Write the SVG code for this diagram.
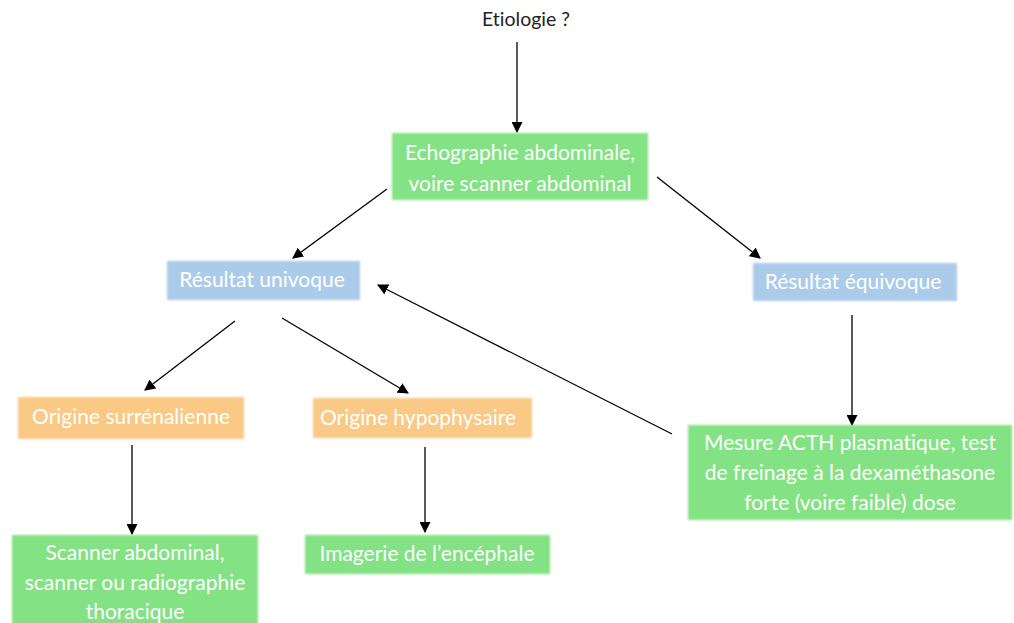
<svg xmlns="http://www.w3.org/2000/svg" width="1014" height="623" viewBox="0 0 1014 623">
<defs>
<style>
.t{font-family:Lato,"Open Sans","Liberation Sans",sans-serif;font-size:21px;fill:#ffffff;text-anchor:middle;font-variant-ligatures:none}
.e{font-family:Lato,"Open Sans","Liberation Sans",sans-serif;font-size:19.5px;fill:#222222;text-anchor:middle;font-variant-ligatures:none}
.g{fill:#83e283}
.b{fill:#abcbea}
.o{fill:#f9c985}
.c{stroke:#000;stroke-width:1.3;fill:none;marker-end:url(#ah)}
</style>
<filter id="soft" x="-5%" y="-5%" width="110%" height="110%"><feGaussianBlur stdDeviation="0.9"/></filter>
<marker id="ah" viewBox="0 0 10 10" refX="9" refY="5" markerWidth="11" markerHeight="11" markerUnits="userSpaceOnUse" orient="auto"><path d="M0,0 L10,5 L0,10 Z" fill="#000"/></marker>
</defs>
<rect width="1014" height="623" fill="#fff"/>
<g id="connectors">
<line class="c" x1="517" y1="42" x2="517" y2="132"/>
<line class="c" x1="387" y1="189" x2="293" y2="258"/>
<line class="c" x1="657" y1="177" x2="760" y2="258"/>
<line class="c" x1="235" y1="321" x2="145" y2="390"/>
<line class="c" x1="282" y1="318" x2="408" y2="393"/>
<line class="c" x1="852" y1="315" x2="852" y2="425"/>
<line class="c" x1="672" y1="434" x2="378" y2="285"/>
<line class="c" x1="132" y1="445" x2="132" y2="534"/>
<line class="c" x1="425" y1="447" x2="425" y2="532"/>
</g>
<g id="n0"><text class="e" x="526" y="26">Etiologie ?</text></g>
<g id="n1"><rect class="g" filter="url(#soft)" x="392" y="133" width="256" height="67"/><text class="t" x="520" y="160">Echographie abdominale,</text><text class="t" x="520" y="191">voire scanner abdominal</text></g>
<g id="n2"><rect class="b" filter="url(#soft)" x="167" y="261" width="193" height="39"/><text class="t" x="262" y="287">Résultat univoque</text></g>
<g id="n3"><rect class="b" filter="url(#soft)" x="753" y="263" width="204" height="38"/><text class="t" x="853" y="289">Résultat équivoque</text></g>
<g id="n4"><rect class="o" filter="url(#soft)" x="18" y="397" width="226" height="42"/><text class="t" x="131" y="424">Origine surrénalienne</text></g>
<g id="n5"><rect class="o" filter="url(#soft)" x="313" y="398" width="219" height="40"/><text class="t" x="418" y="425">Origine hypophysaire</text></g>
<g id="n6"><rect class="g" filter="url(#soft)" x="688" y="425" width="324" height="95"/><text class="t" x="850" y="450">Mesure ACTH plasmatique, test</text><text class="t" x="850" y="480">de freinage à la dexaméthasone</text><text class="t" x="850" y="510">forte (voire faible) dose</text></g>
<g id="n7"><rect class="g" filter="url(#soft)" x="12" y="535" width="246" height="95"/><text class="t" x="135" y="560">Scanner abdominal,</text><text class="t" x="135" y="590">scanner ou radiographie</text><text class="t" x="135" y="619">thoracique</text></g>
<g id="n8"><rect class="g" filter="url(#soft)" x="305" y="535" width="245" height="39"/><text class="t" x="427" y="561">Imagerie de l’encéphale</text></g>
</svg>
